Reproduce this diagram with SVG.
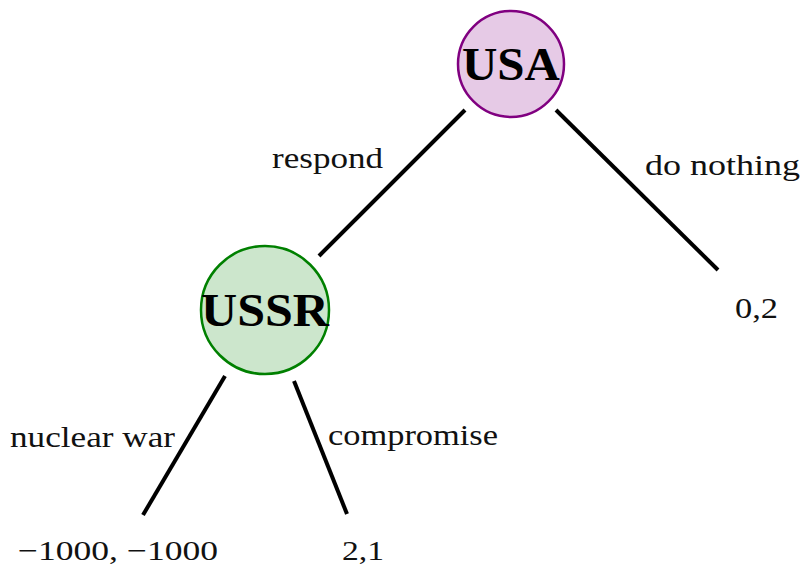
<svg xmlns="http://www.w3.org/2000/svg" width="801" height="567" viewBox="0 0 801 567">
  <style>
    .edge { stroke: #000; stroke-width: 4; fill: none; }
    .lbl { font-family: "Liberation Serif", "DejaVu Serif", serif; font-size: 30px; fill: #111; }
    .pay { font-size: 28px; }
    .player { font-family: "Liberation Serif", "DejaVu Serif", serif; font-size: 46px; font-weight: bold; fill: #000; text-anchor: middle; }
  </style>
  <rect width="801" height="567" fill="#fff"/>
  <g id="connectors">
    <line class="edge" x1="465" y1="110" x2="319" y2="256"/>
    <line class="edge" x1="556" y1="110" x2="718" y2="270"/>
    <line class="edge" x1="225" y1="376" x2="143" y2="515"/>
    <line class="edge" x1="294" y1="381" x2="347" y2="514"/>
  </g>
  <g id="edge-labels">
    <text class="lbl" x="272" y="168" textLength="111" lengthAdjust="spacingAndGlyphs">respond</text>
    <text class="lbl" x="645" y="175" textLength="155" lengthAdjust="spacingAndGlyphs">do nothing</text>
    <text class="lbl" x="10" y="447" textLength="165" lengthAdjust="spacingAndGlyphs">nuclear war</text>
    <text class="lbl" x="328" y="445" textLength="170" lengthAdjust="spacingAndGlyphs">compromise</text>
  </g>
  <g id="usa">
    <circle cx="511" cy="64" r="53" fill="#e6cae6" stroke="#800080" stroke-width="2.5"/>
    <text class="player" x="511" y="80" textLength="98" lengthAdjust="spacingAndGlyphs">USA</text>
  </g>
  <g id="ussr">
    <circle cx="265" cy="310" r="64" fill="#cce6cc" stroke="#008000" stroke-width="2.5"/>
    <text class="player" x="265" y="326" textLength="128" lengthAdjust="spacingAndGlyphs">USSR</text>
  </g>
  <g id="payoff-nothing">
    <text class="lbl" x="735" y="318" textLength="43" lengthAdjust="spacingAndGlyphs">0,2</text>
  </g>
  <g id="payoff-war">
    <text class="lbl pay" x="18" y="560" textLength="200" lengthAdjust="spacingAndGlyphs">−1000, −1000</text>
  </g>
  <g id="payoff-compromise">
    <text class="lbl pay" x="342" y="560" textLength="42" lengthAdjust="spacingAndGlyphs">2,1</text>
  </g>
</svg>
